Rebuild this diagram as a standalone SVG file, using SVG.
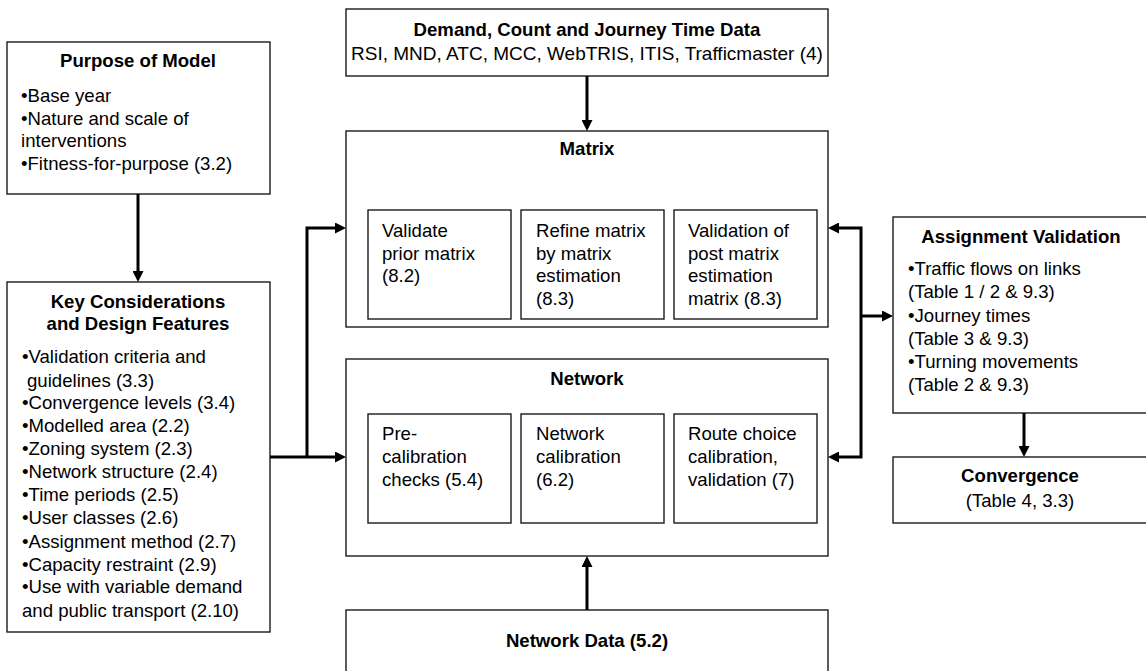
<svg xmlns="http://www.w3.org/2000/svg" width="1146" height="671" viewBox="0 0 1146 671">
<style>
.box{fill:#fff;stroke:#1a1a1a;stroke-width:1.4}
text{font-family:"Liberation Sans",Arial,sans-serif;font-size:18.6px;fill:#000}
.b{font-weight:bold}
.c{text-anchor:middle}
.con{fill:none;stroke:#000;stroke-width:3}
</style>
<defs>
<marker id="ah" markerUnits="userSpaceOnUse" viewBox="0 0 11 11" refX="3" refY="5.5" markerWidth="11" markerHeight="11" orient="auto">
<path d="M0,0 L11,5.5 L0,11 z" fill="#000"/>
</marker>
</defs>
<rect width="1146" height="671" fill="#fff"/>

<g id="purpose">
<rect class="box" x="7" y="42" width="263" height="152"/>
<text class="b c" x="138" y="67">Purpose of Model</text>
<text x="21" y="102">•Base year</text>
<text x="21" y="125">•Nature and scale of</text>
<text x="21" y="147">interventions</text>
<text x="21" y="170">•Fitness-for-purpose (3.2)</text>
</g>

<g id="key">
<rect class="box" x="7" y="282" width="263" height="350"/>
<text class="b c" x="138" y="308">Key Considerations</text>
<text class="b c" x="138" y="330">and Design Features</text>
<text x="22" y="363">•Validation criteria and</text>
<text x="27" y="387">guidelines (3.3)</text>
<text x="22" y="409">•Convergence levels (3.4)</text>
<text x="22" y="432">•Modelled area (2.2)</text>
<text x="22" y="455">•Zoning system (2.3)</text>
<text x="22" y="478">•Network structure (2.4)</text>
<text x="22" y="501">•Time periods (2.5)</text>
<text x="22" y="524">•User classes (2.6)</text>
<text x="22" y="548">•Assignment method (2.7)</text>
<text x="22" y="571">•Capacity restraint (2.9)</text>
<text x="22" y="593">•Use with variable demand</text>
<text x="22" y="617">and public transport (2.10)</text>
</g>

<g id="demand">
<rect class="box" x="346" y="9" width="482" height="67"/>
<text class="b c" x="587" y="36">Demand, Count and Journey Time Data</text>
<text class="c" x="587" y="60" style="font-size:19px">RSI, MND, ATC, MCC, WebTRIS, ITIS, Trafficmaster (4)</text>
</g>

<g id="matrix">
<rect class="box" x="346" y="131" width="482" height="196"/>
<text class="b c" x="587" y="155">Matrix</text>
</g>
<g id="validate-prior">
<rect class="box" x="368" y="210" width="143" height="109"/>
<text x="382" y="237">Validate</text>
<text x="382" y="260">prior matrix</text>
<text x="382" y="282">(8.2)</text>
</g>
<g id="refine-matrix">
<rect class="box" x="521" y="210" width="143" height="109"/>
<text x="536" y="237">Refine matrix</text>
<text x="536" y="260">by matrix</text>
<text x="536" y="282">estimation</text>
<text x="536" y="305">(8.3)</text>
</g>
<g id="validation-post">
<rect class="box" x="674" y="210" width="143" height="109"/>
<text x="688" y="237">Validation of</text>
<text x="688" y="260">post matrix</text>
<text x="688" y="282">estimation</text>
<text x="688" y="305">matrix (8.3)</text>
</g>

<g id="network">
<rect class="box" x="346" y="359" width="482" height="197"/>
<text class="b c" x="587" y="385">Network</text>
</g>
<g id="pre-calibration">
<rect class="box" x="368" y="414" width="143" height="109"/>
<text x="382" y="440">Pre-</text>
<text x="382" y="463">calibration</text>
<text x="382" y="486">checks (5.4)</text>
</g>
<g id="network-calibration">
<rect class="box" x="521" y="414" width="143" height="109"/>
<text x="536" y="440">Network</text>
<text x="536" y="463">calibration</text>
<text x="536" y="486">(6.2)</text>
</g>
<g id="route-choice">
<rect class="box" x="674" y="414" width="143" height="109"/>
<text x="688" y="440">Route choice</text>
<text x="688" y="463">calibration,</text>
<text x="688" y="486">validation (7)</text>
</g>

<g id="network-data">
<rect class="box" x="346" y="610" width="482" height="80"/>
<text class="b c" x="587" y="647">Network Data (5.2)</text>
</g>

<g id="assignment-validation">
<rect class="box" x="893" y="217" width="256" height="196"/>
<text class="b c" x="1021" y="243">Assignment Validation</text>
<text x="908" y="275">•Traffic flows on links</text>
<text x="908" y="298">(Table 1 / 2 &amp; 9.3)</text>
<text x="908" y="322">•Journey times</text>
<text x="908" y="345">(Table 3 &amp; 9.3)</text>
<text x="908" y="368">•Turning movements</text>
<text x="908" y="391">(Table 2 &amp; 9.3)</text>
</g>

<g id="convergence">
<rect class="box" x="893" y="457" width="256" height="66"/>
<text class="b c" x="1020" y="482">Convergence</text>
<text class="c" x="1020" y="507">(Table 4, 3.3)</text>
</g>

<g id="connectors">
<path class="con" d="M138,194 V274" marker-end="url(#ah)"/>
<path class="con" d="M587,76 V123" marker-end="url(#ah)"/>
<path class="con" d="M270,457 H338" marker-end="url(#ah)"/>
<path class="con" d="M307,457 V228 H338" marker-end="url(#ah)"/>
<path class="con" d="M587,610 V564" marker-end="url(#ah)"/>
<path class="con" d="M861,316 V228 H836" marker-end="url(#ah)"/>
<path class="con" d="M861,316 V457 H836" marker-end="url(#ah)"/>
<path class="con" d="M861,316 H885" marker-end="url(#ah)"/>
<path class="con" d="M1024,413 V449" marker-end="url(#ah)"/>
</g>
</svg>
